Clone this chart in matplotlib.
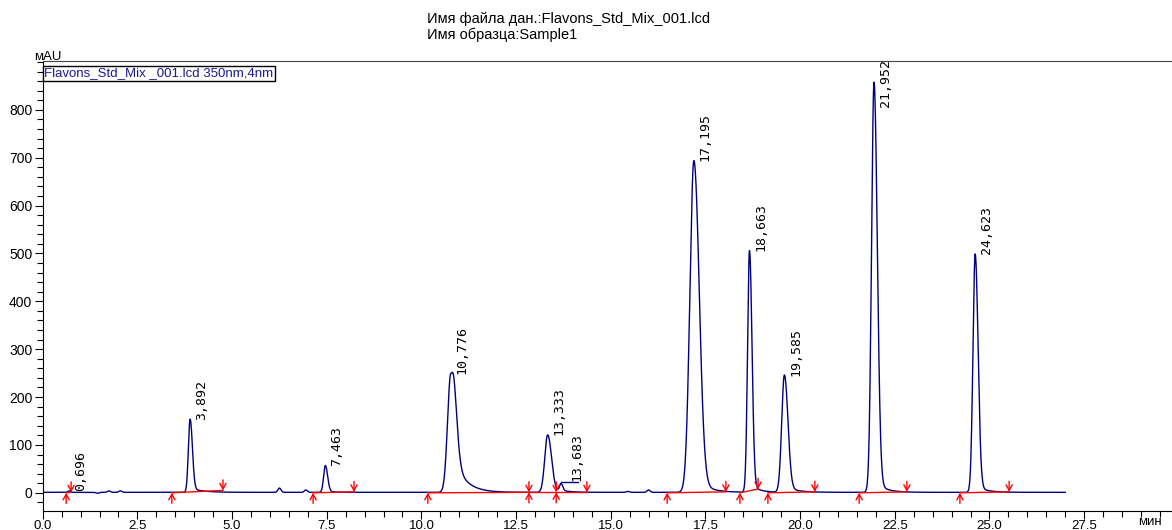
import numpy as np
import matplotlib
matplotlib.use("Agg")
import matplotlib.pyplot as plt
from matplotlib.ticker import MultipleLocator

# peak table (min, mAU)
peak_rt = [0.696, 3.892, 7.463, 10.776, 13.333, 13.683, 17.195, 18.663, 19.585, 21.952, 24.623]
peak_h = [3, 153, 56, 248, 120, 16, 693, 505, 245, 857, 498]
peak_sigma = [0.03, 0.045, 0.045, 0.085, 0.075, 0.035, 0.105, 0.05, 0.07, 0.065, 0.058]
peak_asym = [1.2, 1.3, 1.3, 1.4, 1.3, 1.3, 1.3, 1.3, 1.3, 1.3, 1.3]
tail_frac = [0.0, 0.06, 0.05, 0.38, 0.06, 0.15, 0.05, 0.04, 0.05, 0.03, 0.03]
tail_tau = [0.1, 0.3, 0.2, 0.3, 0.3, 0.2, 0.3, 0.2, 0.3, 0.25, 0.25]
peak_labels = ["0,696", "3,892", "7,463", "10,776", "13,333", "13,683",
               "17,195", "18,663", "19,585", "21,952", "24,623"]

# small baseline bumps
bump_rt = [1.45, 1.75, 2.05, 6.25, 6.95, 15.45, 16.0]
bump_h = [-2, 3, 3, 9, 5, 2, 5]

# integration marks (start, end) and baseline level at each
int_start = [0.62, 3.41, 7.14, 10.17, 12.84, 13.56, 16.49, 18.41, 19.15, 21.56, 24.22]
int_end = [0.75, 4.76, 8.22, 12.84, 13.56, 14.37, 18.04, 18.89, 20.39, 22.82, 25.52]
int_start_y = [0, 0, 0, 0, 1, 1, 0, 0, 0, 0, 0]
int_end_y = [1, 5, 2, 1, 1, 1, 2, 8, 2, 2, 2]

t_end = 27.0
navy = "#00007f"

# build the detector trace from the peak table
t = np.linspace(0, t_end, 6000)
sig = np.full_like(t, 1.0)
for rt, h, s, a, fr, tau in zip(peak_rt, peak_h, peak_sigma, peak_asym, tail_frac, tail_tau):
    sd = np.where(t < rt, s, s * a)
    g = np.exp(-(t - rt) ** 2 / (2 * sd ** 2))
    dt = np.clip(t - rt, 0, None)
    tail = fr * np.exp(-dt / tau) * (1 - np.exp(-(dt / s) ** 2)) * (t > rt)
    sig += h * (g + tail)
for rt, h in zip(bump_rt, bump_h):
    sig += h * np.exp(-(t - rt) ** 2 / (2 * 0.04 ** 2))

fig = plt.figure(figsize=(11.72, 5.30), dpi=100)
ax = fig.add_axes([42.7 / 1172, 1 - 511 / 530, 1 - 42.7 / 1172, (511 - 61) / 530])

ax.plot(t, sig, color=navy, lw=1.0)

# integration baselines and arrows
arrow = dict(arrowstyle="->,head_length=0.4,head_width=0.22", color="red", lw=1.0,
             shrinkA=0, shrinkB=0)
for x0, x1, y0, y1 in zip(int_start, int_end, int_start_y, int_end_y):
    ax.plot([x0, x1], [y0, y1], color="red", lw=1.0)
    ax.annotate("", xy=(x0, y0), xytext=(x0, y0 - 22), arrowprops=arrow)
    ax.annotate("", xy=(x1, y1), xytext=(x1, y1 + 22), arrowprops=arrow)

# peak labels
for rt, h, lab in zip(peak_rt, peak_h, peak_labels):
    if lab == "13,683":
        ax.plot([rt, 14.14], [h + 6, h + 6], color=navy, lw=1.0)
        ax.text(14.11, h + 8, lab, rotation=90, ha="center", va="bottom",
                family="DejaVu Sans Mono", fontsize=9.5)
        continue
    y = min(h, 805)
    ax.annotate(lab, xy=(rt, y), xytext=(3.5, 0), textcoords="offset points",
                rotation=90, ha="left", va="bottom",
                family="DejaVu Sans Mono", fontsize=9.5)

ax.set_xlim(0, (1172 - 42.7) / 37.87)
ax.set_ylim(-38, 902)
ax.xaxis.set_major_locator(MultipleLocator(2.5))
ax.xaxis.set_minor_locator(MultipleLocator(0.5))
ax.yaxis.set_major_locator(MultipleLocator(100))
ax.yaxis.set_minor_locator(MultipleLocator(20))
ax.xaxis.set_major_formatter(matplotlib.ticker.FormatStrFormatter("%.1f"))
ax.set_yticks([0, 100, 200, 300, 400, 500, 600, 700, 800])
ax.tick_params(axis="both", which="major", labelsize=10, length=6, width=0.8, direction="out")
ax.tick_params(axis="both", which="minor", length=4, width=0.8, direction="out")
ax.tick_params(axis="x", pad=0.5, labelsize=9.5)
ax.tick_params(axis="y", pad=1.5)
for lbl in ax.get_xticklabels() + ax.get_yticklabels():
    lbl.set_family("Liberation Sans")
ax.spines["right"].set_visible(False)
ax.spines["top"].set_color("#444444")
for sp in ["left", "bottom", "top"]:
    ax.spines[sp].set_linewidth(0.8)

# legend box
ax.text(1.5 / 1129.3, 0.986, "Flavons_Std_Mix _001.lcd 350nm,4nm", transform=ax.transAxes,
        ha="left", va="top", color="#1a1a96", fontsize=9.5, family="Liberation Sans",
        bbox=dict(boxstyle="square,pad=0.12", facecolor="white", edgecolor="black", lw=1.0))

fig.text(34 / 1172, 1 - 60 / 530, "мAU", ha="left", va="baseline", fontsize=9.5, family="Liberation Sans")
fig.text(1138 / 1172, 1 - 522 / 530, "мин", ha="left", va="center", fontsize=9.5, family="Liberation Sans")
fig.text(427 / 1172, 1 - 19 / 530, "Имя файла дан.:Flavons_Std_Mix_001.lcd", ha="left", va="center",
         fontsize=10.5, family="Liberation Sans")
fig.text(427 / 1172, 1 - 35 / 530, "Имя образца:Sample1", ha="left", va="center",
         fontsize=10.5, family="Liberation Sans")

fig.savefig("out.png", dpi=100)
